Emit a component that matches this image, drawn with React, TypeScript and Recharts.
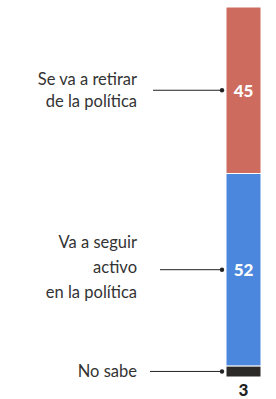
import React from 'react'
import { Bar, BarChart, LabelList, XAxis, YAxis } from 'recharts'

const categories = ['No sabe', 'Va a seguir activo en la política', 'Se va a retirar de la política']
const labelLines = [['No sabe'], ['Va a seguir', 'activo', 'en la política'], ['Se va a retirar', 'de la política']]
const seriesKeys = ['nosabe', 'seguir', 'retirar']
const values = [3, 52, 45]
const colors = ['#2b2a29', '#4b87dc', '#cd6b5f']

const data = [
  seriesKeys.reduce((row: any, k, i) => {
    row[k] = values[i]
    return row
  }, { name: 'Total' }),
]

const FONT = 'Lato, "Noto Sans", sans-serif'
// where each leader line starts, left side
const lineStart = [150, 160, 153]

function makeLabel(i: number) {
  return (props: any) => {
    const { x, y, width, height, value } = props
    const cy = y + height / 2
    const lines = labelLines[i]
    const lineH = i === 1 ? 25 : 22
    const textRight = 137
    const offs = i === 1 ? -28 : -((lines.length - 1) / 2) * lineH
    const inside = height > 20
    return (
      <g>
        <line x1={lineStart[i]} y1={cy} x2={x - 4} y2={cy} stroke="#222" strokeWidth={1} />
        <circle cx={x - 4} cy={cy} r={2.2} fill="#222" />
        {lines.map((t, j) => (
          <text
            key={j}
            x={textRight}
            y={cy + offs + j * lineH}
            textAnchor="end"
            dominantBaseline="central"
            fontFamily={FONT}
            fontSize={16.5}
            fill="#333"
          >
            {t}
          </text>
        ))}
        <text
          x={x + width / 2}
          y={inside ? cy : y + height + 12}
          textAnchor="middle"
          dominantBaseline="central"
          fontFamily={FONT}
          fontWeight={900}
          fontSize={17}
          fill={inside ? '#fff' : '#222'}
        >
          {value}
        </text>
      </g>
    )
  }
}

export default function App() {
  return (
    <div style={{ position: 'absolute', left: 0, top: 0, width: 276, height: 399, background: '#fff' }}>
      <BarChart
        width={276}
        height={399}
        data={data}
        margin={{ top: 7, right: 15, bottom: 22, left: 226 }}
        barCategoryGap={0}
      >
        <XAxis dataKey="name" hide />
        <YAxis hide domain={[0, 100]} />
        {seriesKeys.map((k, i) => (
          <Bar
            key={k}
            dataKey={k}
            name={categories[i]}
            stackId="a"
            fill={colors[i]}
            stroke="#fff"
            strokeWidth={1}
            isAnimationActive={false}
          >
            <LabelList dataKey={k} content={makeLabel(i)} />
          </Bar>
        ))}
      </BarChart>
    </div>
  )
}
